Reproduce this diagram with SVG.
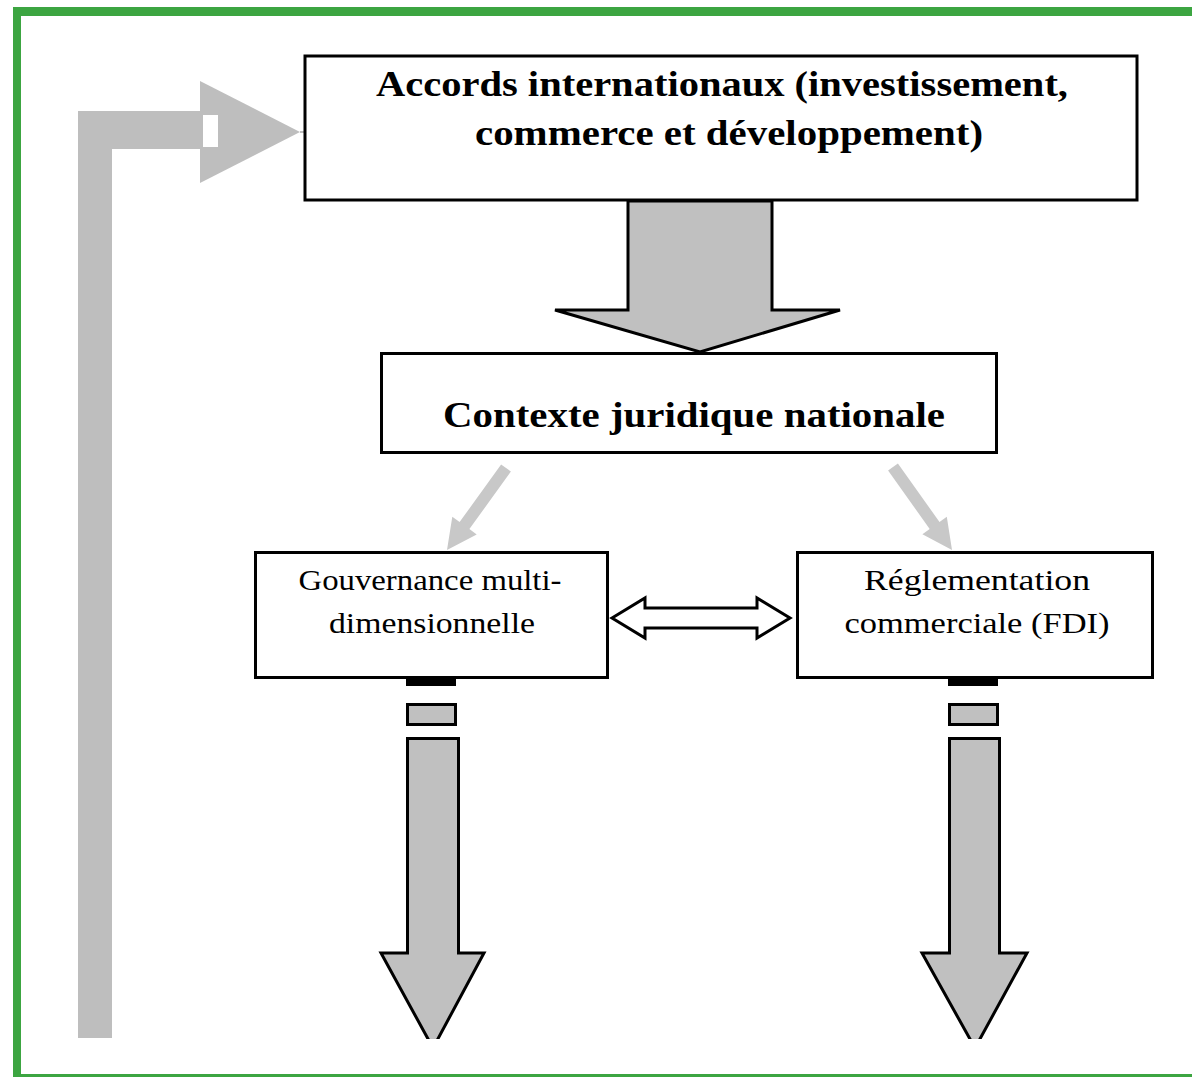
<svg xmlns="http://www.w3.org/2000/svg" width="1192" height="1077" viewBox="0 0 1192 1077">
<defs>
<style>
.box{fill:#fff;stroke:#000;stroke-width:3}
.big{fill:#c0c0c0;stroke:#000;stroke-width:3;stroke-linejoin:miter}
.lg{fill:#bebebe}
.dg{fill:#c8c8c8}
.tb{font-family:"Liberation Serif","Times New Roman",serif;font-weight:bold;fill:#000;text-anchor:middle}
.tn{font-family:"Liberation Serif","Times New Roman",serif;fill:#000;text-anchor:middle}
</style>
<clipPath id="clipBottom"><rect x="0" y="0" width="1192" height="1039"/></clipPath>
</defs>
<rect x="0" y="0" width="1192" height="1077" fill="#fff"/>
<g id="frame" fill="#3ca541">
<rect x="13" y="7" width="1179" height="9"/>
<rect x="13" y="7" width="8" height="1070"/>
<rect x="13" y="1074" width="1179" height="3"/>
</g>
<g id="connectors">
<g id="feedback-arrow">
<rect class="lg" x="78" y="111" width="34" height="927"/>
<rect class="lg" x="78" y="111" width="125" height="38"/>
<polygon class="lg" points="200,81 300,132 200,183"/>
<rect x="203" y="115" width="15" height="32" fill="#fff"/>
<line x1="300" y1="132" x2="304" y2="132" stroke="#bebebe" stroke-width="2"/>
</g>
<polygon class="big" points="628,201 772,201 772,310 840,310 700,352 555,310 628,310"/>
<polygon class="dg" points="510.9,471.5 469.4,529.1 476.7,534.4 447,550 452.3,516.8 459.6,522.1 501.1,464.5"/>
<polygon class="dg" points="897.9,463.5 939.5,522 946.8,516.8 952,550 922.4,534.2 929.7,529 888.1,470.5"/>
<polygon fill="#fff" stroke="#000" stroke-width="3" points="612,618 645,598 645,608 757,608 757,598 790,618 757,638 757,628 645,628 645,638"/>
<g clip-path="url(#clipBottom)">
<rect x="406" y="677" width="50" height="9" fill="#000"/>
<rect class="big" x="407.5" y="704.5" width="48" height="20"/>
<polygon class="big" points="407.5,738.5 458.5,738.5 458.5,953 484,953 433,1048 381,953 407.5,953"/>
<rect x="948" y="677" width="50" height="9" fill="#000"/>
<rect class="big" x="949.5" y="704.5" width="48" height="20"/>
<polygon class="big" points="949.5,738.5 999.5,738.5 999.5,953 1027,953 975,1048 922,953 949.5,953"/>
</g>
</g>
<g id="node-accords">
<rect class="box" x="305" y="56" width="832" height="144"/>
<text class="tb" x="722" y="96" font-size="36" textLength="692" lengthAdjust="spacingAndGlyphs">Accords internationaux (investissement,</text>
<text class="tb" x="729" y="145" font-size="36" textLength="508" lengthAdjust="spacingAndGlyphs">commerce et développement)</text>
</g>
<g id="node-contexte">
<rect class="box" x="381.5" y="353.5" width="615" height="99"/>
<text class="tb" x="694" y="427" font-size="36" textLength="502" lengthAdjust="spacingAndGlyphs">Contexte juridique nationale</text>
</g>
<g id="node-gouvernance">
<rect class="box" x="255.5" y="552.5" width="352" height="125"/>
<text class="tn" x="430" y="590" font-size="30" textLength="263" lengthAdjust="spacingAndGlyphs">Gouvernance multi-</text>
<text class="tn" x="432" y="633" font-size="30" textLength="206" lengthAdjust="spacingAndGlyphs">dimensionnelle</text>
</g>
<g id="node-reglementation">
<rect class="box" x="797.5" y="552.5" width="355" height="125"/>
<text class="tn" x="977" y="590" font-size="30" textLength="226" lengthAdjust="spacingAndGlyphs">Réglementation</text>
<text class="tn" x="977" y="633" font-size="30" textLength="265" lengthAdjust="spacingAndGlyphs">commerciale (FDI)</text>
</g>
</svg>
